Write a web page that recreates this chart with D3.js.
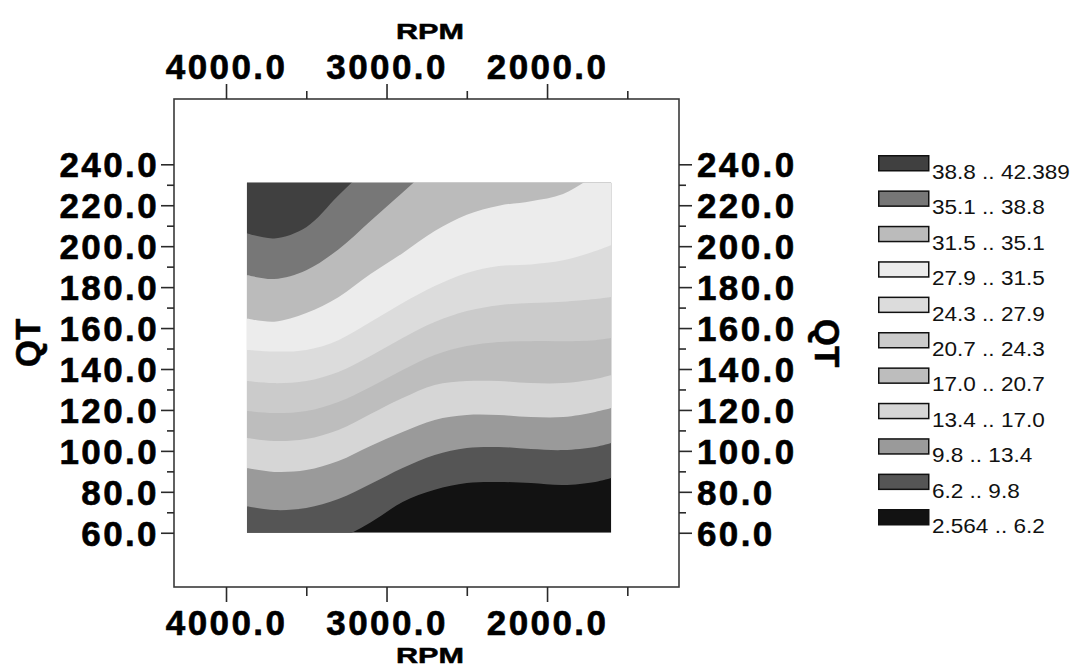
<!DOCTYPE html>
<html>
<head>
<meta charset="utf-8">
<script src="https://cdn.jsdelivr.net/npm/d3@7"></script>
<style>
  html, body { margin: 0; padding: 0; background: #ffffff; }
  svg { display: block; }
</style>
</head>
<body>
<svg id="chart" width="1075" height="670"></svg>
<script>
// Response levels that bound the contour bands
const levels = [2.564, 6.2, 9.8, 13.4, 17.0, 20.7, 24.3, 27.9, 31.5, 35.1, 38.8, 42.389];
const levelLabels = ["2.564", "6.2", "9.8", "13.4", "17.0", "20.7", "24.3", "27.9", "31.5", "35.1", "38.8", "42.389"];
// Grey shade of each band, lowest band first
const bandColors = ["#121212", "#555555", "#9a9a9a", "#d6d6d6", "#bdbdbd", "#cbcbcb",
                    "#dcdcdc", "#ececec", "#bbbbbb", "#777777", "#404040"];

// Sampled window of the response surface
const rpmRange = [1600, 3870];
const qtRange = [60, 231];

// RPM stations at which every level line is read
const rpmStations = [3870, 3700, 3500, 3300, 3100, 2900, 2700, 2500, 2300, 2100, 1900, 1700, 1600];
// QT of each level line at the stations (values outside the window run off the map)
const qt_6_2  = [46.7, 49.1, 52.5, 57.0, 65.0, 75.0, 81.0, 84.3, 84.8, 84.3, 83.3, 84.8, 86.7];
const qt_9_8  = [73.0, 71.1, 72.1, 76.5, 83.8, 91.6, 98.0, 101.4, 101.9, 100.9, 100.4, 101.9, 103.8];
const qt_13_4 = [91.6, 89.7, 90.6, 95.0, 102.4, 109.2, 115.1, 117.5, 117.5, 116.5, 116.5, 119.0, 120.9];
const qt_17_0 = [106.3, 104.8, 105.8, 110.2, 118.0, 125.8, 132.2, 134.1, 134.1, 133.1, 133.1, 135.1, 137.1];
const qt_20_7 = [119.5, 118.5, 119.5, 123.9, 131.2, 139.5, 146.8, 151.2, 153.2, 153.6, 153.6, 154.1, 155.1];
const qt_24_3 = [134.1, 133.1, 134.1, 138.5, 146.3, 155.1, 162.9, 168.3, 171.2, 172.2, 172.9, 174.2, 175.2];
const qt_27_9 = [149.3, 148.5, 149.3, 154.1, 162.9, 172.2, 180.5, 186.9, 190.3, 191.1, 193.1, 197.6, 200.6];
const qt_31_5 = [164.7, 163.1, 167.3, 175.1, 186.4, 196.6, 207.4, 215.4, 219.8, 222.0, 225.5, 234.7, 239.6];
const qt_35_1 = [185.9, 184.0, 188.3, 198.4, 212.3, 226.2, 239.6, 248.0, 254.0, 258.0, 261.0, 264.0, 265.0];
const qt_38_8 = [206.3, 203.8, 209.3, 224.7, 240.0, 255.0, 265.0, 272.0, 278.0, 282.0, 285.0, 288.0, 289.0];
const levelLines = [qt_6_2, qt_9_8, qt_13_4, qt_17_0, qt_20_7, qt_24_3, qt_27_9, qt_31_5, qt_35_1, qt_38_8];

// Axis ticks
const rpmMajor = [4000, 3000, 2000];
const rpmMinor = [3500, 2500, 1500];
const qtMajor = [60, 80, 100, 120, 140, 160, 180, 200, 220, 240];
const qtMinor = [70, 90, 110, 130, 150, 170, 190, 210, 230];

const svg = d3.select("#chart");
const frame = { left: 174, right: 679, top: 99, bottom: 587 };

const x = d3.scaleLinear().domain([4324, 1178]).range([frame.left, frame.right]);
const y = d3.scaleLinear().domain([33.5, 271.9]).range([frame.bottom, frame.top]);

const fmt = d3.format(".1f");
const tickFont = "'Liberation Sans', Arial, sans-serif";

// ---- contour map ----
svg.append("clipPath").attr("id", "map-clip")
  .append("rect")
  .attr("x", x(rpmRange[1])).attr("y", y(qtRange[1]))
  .attr("width", x(rpmRange[0]) - x(rpmRange[1]))
  .attr("height", y(qtRange[0]) - y(qtRange[1]));

const map = svg.append("g").attr("clip-path", "url(#map-clip)");

map.append("rect")
  .attr("x", x(rpmRange[1])).attr("y", y(qtRange[1]))
  .attr("width", x(rpmRange[0]) - x(rpmRange[1]))
  .attr("height", y(qtRange[0]) - y(qtRange[1]))
  .attr("fill", bandColors[0]);

// each level line fills everything above it with the colour of the band it opens
const bandArea = d3.area()
  .x(d => x(d.rpm))
  .y0(d => y(d.qt))
  .y1(() => y(400))
  .curve(d3.curveCatmullRom.alpha(0.5));

levelLines.forEach((line, i) => {
  const pts = rpmStations.map((rpm, j) => ({ rpm, qt: line[j] }));
  map.append("path")
    .attr("d", bandArea(pts))
    .attr("fill", bandColors[i + 1]);
});

// ---- frame ----
svg.append("rect")
  .attr("x", frame.left).attr("y", frame.top)
  .attr("width", frame.right - frame.left)
  .attr("height", frame.bottom - frame.top)
  .attr("fill", "none").attr("stroke", "#3a3a3a").attr("stroke-width", 1.6);

function styleAxis(g) {
  g.select(".domain").remove();
  g.selectAll(".tick line").attr("stroke", "#2a2a2a").attr("stroke-width", 1.6);
  g.selectAll(".tick text")
    .attr("fill", "#000")
    .attr("stroke", "#000")
    .attr("stroke-width", 0.6)
    .style("font-family", tickFont)
    .style("font-weight", "bold")
    .style("font-size", "35px")
    .style("letter-spacing", "2.4px");
}

// top RPM axis
svg.append("g").attr("transform", `translate(0,${frame.top})`)
  .call(d3.axisTop(x).tickValues(rpmMajor).tickSize(15).tickPadding(5).tickFormat(fmt))
  .call(styleAxis);
svg.append("g").attr("transform", `translate(0,${frame.top})`)
  .call(d3.axisTop(x).tickValues(rpmMinor).tickSize(8).tickFormat(""))
  .call(styleAxis);

// bottom RPM axis
svg.append("g").attr("transform", `translate(0,${frame.bottom})`)
  .call(d3.axisBottom(x).tickValues(rpmMajor).tickSize(15).tickPadding(8).tickFormat(fmt))
  .call(styleAxis);
svg.append("g").attr("transform", `translate(0,${frame.bottom})`)
  .call(d3.axisBottom(x).tickValues(rpmMinor).tickSize(9).tickFormat(""))
  .call(styleAxis);

// left QT axis
svg.append("g").attr("transform", `translate(${frame.left},0)`)
  .call(d3.axisLeft(y).tickValues(qtMajor).tickSize(13).tickPadding(2).tickFormat(fmt))
  .call(styleAxis)
  .call(g => g.selectAll(".tick text").attr("dy", "0.355em"));
svg.append("g").attr("transform", `translate(${frame.left},0)`)
  .call(d3.axisLeft(y).tickValues(qtMinor).tickSize(7).tickFormat(""))
  .call(styleAxis);

// right QT axis
svg.append("g").attr("transform", `translate(${frame.right},0)`)
  .call(d3.axisRight(y).tickValues(qtMajor).tickSize(13).tickPadding(5).tickFormat(fmt))
  .call(styleAxis)
  .call(g => g.selectAll(".tick text").attr("dy", "0.355em"));
svg.append("g").attr("transform", `translate(${frame.right},0)`)
  .call(d3.axisRight(y).tickValues(qtMinor).tickSize(7).tickFormat(""))
  .call(styleAxis);

// axis titles
const titleStyle = sel => sel
  .attr("fill", "#000")
  .attr("stroke", "#000")
  .attr("stroke-width", 0.5)
  .style("font-family", tickFont)
  .style("font-weight", "bold");

svg.append("text").text("RPM")
  .attr("x", 396).attr("y", 39)
  .attr("textLength", 68).attr("lengthAdjust", "spacingAndGlyphs")
  .style("font-size", "22px").call(titleStyle);
svg.append("text").text("RPM")
  .attr("x", 396).attr("y", 663)
  .attr("textLength", 68).attr("lengthAdjust", "spacingAndGlyphs")
  .style("font-size", "22px").call(titleStyle);

svg.append("text").text("QT")
  .attr("transform", `translate(40,${(frame.top + frame.bottom) / 2}) rotate(-90)`)
  .attr("text-anchor", "middle")
  .style("font-size", "35px").call(titleStyle);
svg.append("text").text("QT")
  .attr("transform", `translate(815,${(frame.top + frame.bottom) / 2}) rotate(90)`)
  .attr("text-anchor", "middle")
  .style("font-size", "35px").call(titleStyle);

// ---- legend (highest band on top) ----
const legendRows = d3.range(bandColors.length).reverse().map(i => ({
  color: bandColors[i],
  label: `${levelLabels[i]} .. ${levelLabels[i + 1]}`
}));

const legend = svg.append("g").attr("transform", "translate(878,155)");
const row = legend.selectAll("g").data(legendRows).join("g")
  .attr("transform", (d, i) => `translate(0,${i * 35.4})`);
row.append("rect")
  .attr("x", 0.75).attr("y", 0.75).attr("width", 50).attr("height", 15)
  .attr("fill", d => d.color)
  .attr("stroke", "#111").attr("stroke-width", 1.5);
row.append("text")
  .attr("transform", "translate(54,24) scale(1.1,1)")
  .attr("fill", "#111")
  .style("font-family", tickFont)
  .style("font-size", "20.5px")
  .text(d => d.label);
</script>
</body>
</html>
